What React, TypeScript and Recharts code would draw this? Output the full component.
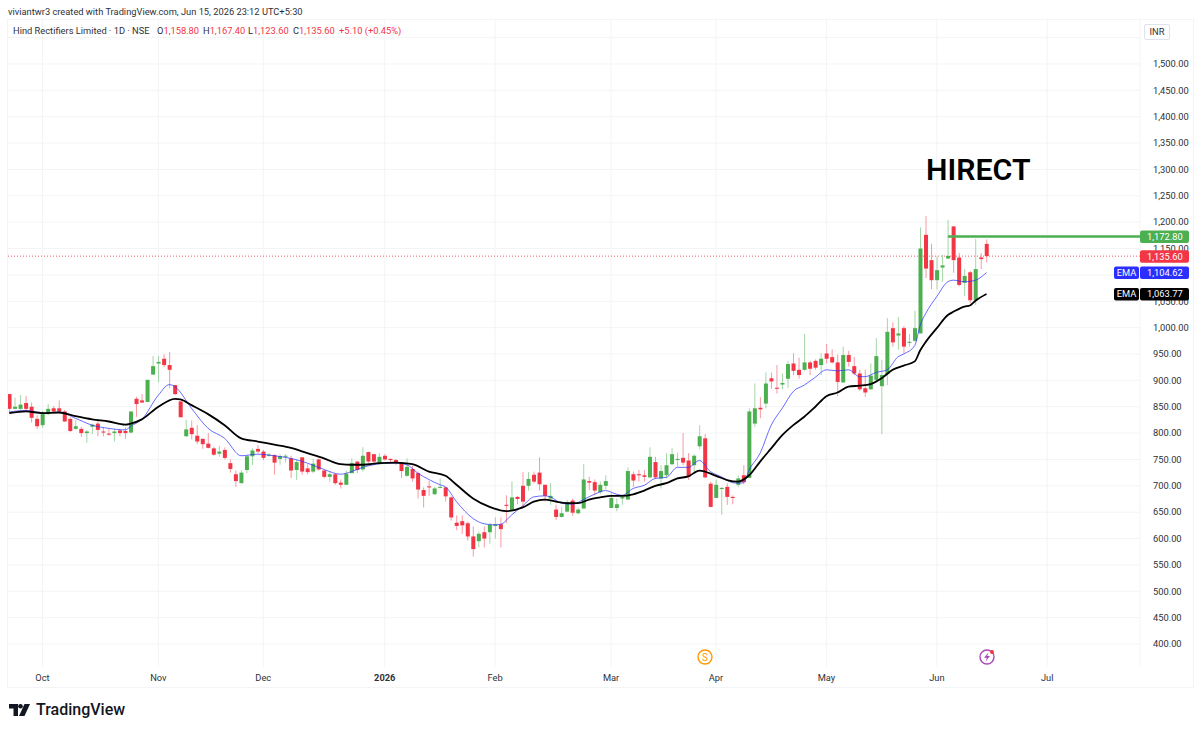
import { Bar, CartesianGrid, ComposedChart, Line, ReferenceLine, XAxis, YAxis } from 'recharts';

const opens = [
  874, 846, 846, 857, 850, 827, 815, 836, 847, 847,
  841, 827, 808, 808, 800, 812, 818, 803, 799, 800,
  805, 804, 801, 865, 862, 859, 911, 932, 941, 929,
  891, 860, 794, 810, 795, 789, 780, 771, 761, 768,
  743, 722, 705, 730, 756, 770, 765, 757, 758, 751,
  756, 752, 730, 754, 733, 727, 750, 729, 717, 722,
  706, 702, 724, 746, 731, 764, 760, 741, 757, 751,
  749, 743, 719, 732, 724, 692, 699, 684, 697, 697,
  678, 630, 633, 629, 604, 595, 612, 612, 624, 627,
  664, 653, 679, 700, 700, 721, 725, 702, 676, 655,
  641, 651, 672, 648, 657, 709, 707, 688, 700, 658,
  658, 676, 674, 722, 722, 720, 716, 745, 714, 720,
  741, 750, 753, 748, 739, 775, 790, 704, 677, 694,
  698, 679, 702, 720, 715, 818, 848, 856, 904, 886,
  892, 903, 932, 920, 920, 934, 937, 929, 951, 944,
  934, 896, 948, 927, 913, 885, 883, 901, 889, 912,
  999, 985, 999, 972, 975, 989, 1176, 1128, 1090, 1114,
  1131, 1192, 1133, 1085, 1105, 1052, 1133, 1158.8,
];
const highs = [
  874, 867, 872, 870, 858, 834, 842, 855, 851, 862,
  844, 830, 825, 812, 806, 818, 825, 811, 809, 808,
  808, 811, 841, 869, 874, 901, 946, 946, 949, 954,
  891, 861, 825, 824, 815, 790, 800, 774, 776, 773,
  750, 729, 729, 758, 771, 777, 768, 762, 760, 760,
  760, 757, 750, 754, 741, 751, 752, 730, 727, 722,
  712, 729, 752, 746, 773, 765, 760, 762, 760, 752,
  751, 745, 752, 738, 727, 697, 709, 698, 714, 698,
  680, 644, 644, 632, 623, 613, 623, 630, 640, 640,
  682, 708, 681, 726, 726, 727, 754, 702, 705, 664,
  660, 673, 676, 659, 741, 717, 712, 708, 720, 686,
  676, 681, 735, 727, 730, 730, 773, 755, 739, 762,
  772, 763, 800, 762, 760, 815, 798, 708, 712, 698,
  705, 682, 719, 739, 847, 894, 868, 915, 915, 929,
  913, 937, 951, 943, 988, 937, 940, 951, 969, 959,
  949, 964, 956, 944, 920, 920, 932, 980, 939, 1018,
  1010, 1020, 1003, 988, 1032, 1190, 1212, 1159, 1135, 1138,
  1204, 1192, 1142, 1111, 1108, 1168, 1141, 1167.4,
];
const lows = [
  839, 845, 844, 841, 820, 808, 810, 834, 839, 839,
  822, 802, 806, 793, 782, 798, 794, 794, 795, 784,
  794, 789, 800, 831, 857, 859, 910, 896, 925, 885,
  872, 830, 793, 788, 779, 770, 771, 757, 755, 750,
  725, 698, 705, 724, 739, 762, 749, 755, 721, 740,
  744, 715, 711, 721, 722, 724, 729, 714, 708, 702,
  695, 702, 724, 724, 727, 743, 740, 740, 748, 743,
  740, 715, 717, 708, 676, 659, 681, 683, 695, 670,
  634, 616, 609, 596, 566, 583, 583, 590, 600, 583,
  629, 653, 665, 659, 691, 705, 691, 670, 664, 635,
  640, 650, 643, 646, 657, 692, 682, 684, 693, 658,
  652, 664, 673, 698, 708, 708, 714, 713, 695, 714,
  739, 736, 739, 711, 725, 769, 714, 659, 677, 645,
  664, 665, 698, 703, 715, 812, 828, 847, 884, 875,
  883, 886, 910, 903, 918, 910, 920, 910, 932, 932,
  870, 896, 926, 910, 880, 869, 882, 898, 798, 891,
  964, 958, 951, 964, 973, 989, 1094, 1073, 1073, 1087,
  1130, 1104, 1078, 1060, 1046, 1043, 1111, 1123.6,
];
const closes = [
  846, 850, 854, 846, 829, 813, 836, 846, 841, 841,
  822, 804, 813, 800, 803, 816, 806, 801, 797, 803,
  800, 800, 841, 855, 858, 901, 927, 935, 929, 920,
  874, 830, 807, 798, 784, 779, 772, 759, 765, 753,
  732, 709, 725, 756, 767, 765, 753, 759, 744, 756,
  757, 729, 745, 727, 726, 742, 731, 717, 722, 705,
  702, 723, 743, 730, 757, 746, 746, 755, 750, 749,
  743, 728, 736, 714, 693, 681, 697, 695, 698, 680,
  640, 624, 625, 604, 580, 609, 600, 626, 627, 618,
  662, 678, 675, 670, 713, 708, 703, 681, 681, 641,
  648, 669, 649, 655, 712, 706, 691, 702, 709, 677,
  665, 679, 728, 710, 720, 717, 755, 716, 728, 739,
  760, 751, 744, 717, 757, 794, 716, 660, 702, 696,
  679, 677, 714, 707, 841, 847, 845, 894, 898, 884,
  895, 931, 918, 910, 934, 922, 924, 941, 941, 934,
  897, 948, 935, 913, 883, 877, 909, 946, 910, 992,
  972, 989, 964, 973, 999, 1150, 1112, 1090, 1109, 1118,
  1136, 1128, 1081, 1098, 1052, 1111, 1130, 1135.6,
];

// EMA readings, taken every few sessions
const slowEmaDays = [
  0, 3, 6, 9, 12, 15, 18, 21, 22, 24, 27, 30, 31, 33, 36, 39, 42, 45, 48, 51, 54, 57, 60, 62, 64, 67, 70, 73, 76, 79, 81,
  84, 87, 90, 93, 95, 97, 99, 101, 103, 105, 107, 109, 111, 113, 115, 117, 119, 121, 123, 125, 128, 130, 132,
  134, 136, 138, 140, 142, 144, 146, 148, 150, 152, 154, 156, 158, 160, 162, 164, 165, 166, 168, 170, 171, 173,
  174, 175, 177,
];
const slowEmaValues = [
  838, 841, 838, 839, 832, 826, 822, 816, 818, 826, 850, 865, 864, 853, 836, 815, 790, 784, 778, 772, 762, 752, 741, 740,
  740, 743, 744, 741, 727, 719, 702,
  676, 660, 652, 659, 670, 674, 670, 667, 667, 674, 678, 681, 681, 684, 691, 700, 705, 714, 718, 729, 719, 711,
  708,
  720, 746, 771, 796, 815, 831, 850, 870, 877, 888, 890, 893, 904, 920, 928, 936, 957, 973, 999, 1024, 1030, 1040,
  1042, 1051, 1063.77,
];
const fastEmaDays = [
  0, 3, 6, 9, 12, 15, 18, 21, 22, 24, 27, 29, 30, 33, 36, 39, 42, 45, 48, 51, 54, 57, 60, 62, 64, 66, 68, 70, 72, 74, 76,
  78, 79, 81, 84, 86, 88, 89, 91, 93, 95, 97, 98, 100, 102, 104, 106, 108, 110, 111, 113, 115, 117, 119, 121, 123, 125,
  127, 129, 131, 132, 133, 134, 136, 138, 140, 142, 144, 146, 148, 150, 152, 154, 155, 157, 159, 161, 162, 164, 165,
  166, 168, 170, 171, 173, 175, 177,
];
const fastEmaValues = [
  840, 843, 838, 840, 828, 815, 809, 806, 813, 826, 872, 892, 888, 847, 809, 790, 757, 760, 757, 752, 743, 731, 722, 727,
  735, 740, 743, 743, 740, 724, 712,
  702, 698, 670, 638, 628, 626, 627, 645, 662, 679, 681, 679, 667, 665, 674, 684, 691, 684, 682, 695, 701, 714, 716, 735,
  735, 748,
  727, 717, 706, 705, 706, 730, 762, 815, 847, 879, 891, 906, 920, 918, 920, 907, 907, 915, 920, 945, 950, 966, 1005,
  1027, 1059, 1087, 1090, 1087, 1090, 1104.62,
];

const timeTickDays = [6, 27, 46, 68, 88, 109, 128, 148, 168, 188];
const timeTickLabels = ['Oct', 'Nov', 'Dec', '2026', 'Feb', 'Mar', 'Apr', 'May', 'Jun', 'Jul'];
const priceTicks = [
  400, 450, 500, 550, 600, 650, 700, 750, 800, 850, 900, 950, 1000, 1050, 1150, 1200, 1250, 1300, 1350, 1400, 1450, 1500,
];
const gridPrices = [...priceTicks, 1100, 1550];

const UP = '#4CAF50';
const DOWN = '#F23645';
const EMA_FAST = '#2A2EFF';
const GRID = '#F3F4F6';
const TEXT = '#2E3138';
const FONT = 'Roboto, "Noto Sans", sans-serif';
const TEXT_SIZE = 9.3;
const X_DOMAIN = [-0.2355, 204.8];
const Y_DOMAIN = [356.4, 1583.4];

const slowByDay = new Map(slowEmaDays.map((d, k) => [d, slowEmaValues[k]]));
const fastByDay = new Map(fastEmaDays.map((d, k) => [d, fastEmaValues[k]]));

const rows = opens.map((open, i) => ({
  day: i,
  open,
  high: highs[i],
  low: lows[i],
  close: closes[i],
  range: [lows[i], highs[i]],
  slow: slowByDay.get(i) ?? null,
  fast: fastByDay.get(i) ?? null,
}));

function Candle(props: any) {
  const { x, y, width, height, payload } = props;
  const top = Math.min(y, y + height);
  const perUnit = Math.abs(height) / (payload.high - payload.low);
  const color = payload.close >= payload.open ? UP : DOWN;
  const bodyTop = top + (payload.high - Math.max(payload.open, payload.close)) * perUnit;
  const bodyH = Math.abs(payload.close - payload.open) * perUnit;
  const mid = x + width / 2;
  return (
    <g>
      <line x1={mid} x2={mid} y1={top} y2={top + Math.abs(height)} stroke={color} strokeWidth={1} strokeOpacity={0.5} />
      <rect x={x} y={bodyTop} width={width} height={Math.max(bodyH, 1)} fill={color} />
    </g>
  );
}

function TimeTick({ x, y, payload }: any) {
  const label = timeTickLabels[timeTickDays.indexOf(payload.value)];
  return (
    <text x={x} y={y + 6} textAnchor="middle" fontFamily={FONT} fontSize={TEXT_SIZE} fontWeight={label === '2026' ? 700 : 400} fill={TEXT}>
      {label}
    </text>
  );
}

function PriceTag({ viewBox, value, fill, name }: any) {
  const cy = viewBox.y;
  const right = viewBox.x + viewBox.width;
  return (
    <g fontFamily={FONT} fontSize={TEXT_SIZE} fill="#fff">
      {name && (
        <>
          <rect x={right - 26} y={cy - 6} width={25} height={12.5} rx={2} fill={fill} />
          <text x={right - 13.5} y={cy + 3.4} textAnchor="middle">{name}</text>
        </>
      )}
      <rect x={right} y={cy - 6} width={49} height={12.5} rx={2} fill={fill} />
      <text x={right + 7} y={cy + 3.4}>{value}</text>
    </g>
  );
}

const legendValues = [
  { left: 157, label: 'O', value: '1,158.80' },
  { left: 203, label: 'H', value: '1,167.40' },
  { left: 248, label: 'L', value: '1,123.60' },
  { left: 293, label: 'C', value: '1,135.60' },
];

const abs = (left: number, top: number, extra: any = {}) => ({
  position: 'absolute' as const,
  left,
  top,
  fontFamily: FONT,
  whiteSpace: 'nowrap' as const,
  lineHeight: 1,
  ...extra,
});

export default function App() {
  return (
    <div style={{ position: 'absolute', left: 0, top: 0, width: 1200, height: 732, background: '#fff', overflow: 'hidden' }}>
      <div style={{ position: 'absolute', left: 7, top: 19, width: 1185, height: 667, border: `1px solid ${GRID}` }} />
      <ComposedChart
        width={1200}
        height={732}
        data={rows}
        margin={{ top: 20, right: 0, bottom: 45, left: 8 }}
        style={{ position: 'absolute', left: 0, top: 0 }}
      >
        <CartesianGrid stroke={GRID} horizontalValues={gridPrices} verticalValues={timeTickDays} />
        <XAxis
          dataKey="day"
          type="number"
          domain={X_DOMAIN}
          allowDataOverflow
          ticks={timeTickDays}
          interval={0}
          axisLine={false}
          tickLine={false}
          tick={<TimeTick />}
          height={20}
        />
        <YAxis
          orientation="right"
          width={60}
          domain={Y_DOMAIN}
          allowDataOverflow
          ticks={priceTicks}
          interval={0}
          axisLine={{ stroke: GRID }}
          tickLine={false}
          tick={{ fill: TEXT, fontSize: TEXT_SIZE, fontFamily: FONT }}
          tickFormatter={(v: number) => v.toLocaleString('en-US', { minimumFractionDigits: 2 })}
          tickMargin={7}
        />
        <Bar dataKey="range" barSize={4} shape={<Candle />} isAnimationActive={false} />
        <Line dataKey="fast" type="monotone" connectNulls dot={false} stroke={EMA_FAST} strokeWidth={1} strokeOpacity={0.7} isAnimationActive={false} />
        <Line dataKey="slow" type="monotone" connectNulls dot={false} stroke="#000" strokeWidth={1.8} isAnimationActive={false} />
      </ComposedChart>

      {/* second layer so the price tags sit on top of the axis labels */}
      <ComposedChart
        width={1200}
        height={732}
        data={rows}
        margin={{ top: 20, right: 60, bottom: 65, left: 8 }}
        style={{ position: 'absolute', left: 0, top: 0 }}
      >
        <XAxis dataKey="day" type="number" domain={X_DOMAIN} allowDataOverflow hide />
        <YAxis domain={Y_DOMAIN} allowDataOverflow hide />
        <ReferenceLine y={1135.6} stroke={DOWN} strokeDasharray="1 2" strokeOpacity={0.8} label={<PriceTag value="1,135.60" fill={DOWN} />} />
        <ReferenceLine segment={[{ x: 170, y: 1172.8 }, { x: 204.8, y: 1172.8 }]} stroke={UP} strokeWidth={2.5} />
        <ReferenceLine y={1172.8} strokeOpacity={0} label={<PriceTag value="1,172.80" fill={UP} />} />
        <ReferenceLine y={1104.62} strokeOpacity={0} label={<PriceTag value="1,104.62" fill={EMA_FAST} name="EMA" />} />
        <ReferenceLine y={1063.77} strokeOpacity={0} label={<PriceTag value="1,063.77" fill="#000" name="EMA" />} />
      </ComposedChart>

      <div style={abs(8, 7, { fontSize: TEXT_SIZE, color: TEXT })}>viviantwr3 created with TradingView.com, Jun 15, 2026 23:12 UTC+5:30</div>
      <div style={abs(13, 26, { fontSize: TEXT_SIZE, color: TEXT })}>Hind Rectifiers Limited · 1D · NSE</div>
      {legendValues.map((item) => (
        <div key={item.label} style={abs(item.left, 26, { fontSize: TEXT_SIZE, color: DOWN })}>
          <span style={{ color: TEXT }}>{item.label}</span>{item.value}
        </div>
      ))}
      <div style={abs(339, 26, { fontSize: TEXT_SIZE, color: DOWN })}>+5.10 (+0.45%)</div>

      <div style={abs(1144, 24, { width: 26, height: 16, boxSizing: 'border-box', border: '1px solid #E0E3EB', borderRadius: 2, fontSize: TEXT_SIZE, color: TEXT, textAlign: 'center', lineHeight: '14px' })}>INR</div>
      <div style={abs(926, 155, { fontSize: 30.3, fontWeight: 600, color: '#000' })}>HIRECT</div>

      <svg width={24} height={24} style={{ position: 'absolute', left: 693, top: 645 }}>
        <circle cx={12} cy={12} r={7} fill="#fff" stroke="#FF9800" strokeWidth={1.4} />
        <text x={12} y={15.5} textAnchor="middle" fontSize={10} fontFamily={FONT} fill="#FF9800">S</text>
      </svg>
      <svg width={24} height={24} style={{ position: 'absolute', left: 975, top: 645 }}>
        <circle cx={12} cy={12} r={7} fill="#fff" stroke="#AB47BC" strokeWidth={1.4} />
        <path d="M13.5 7.5 L9 12.8 H11.8 L10.6 16.5 L15 11 H12.2 Z" fill="#AB47BC" />
        <circle cx={17} cy={7} r={2} fill={DOWN} />
      </svg>

      <svg width={24} height={16} style={{ position: 'absolute', left: 9, top: 702 }}>
        <path d="M0 2 H9 V14 H4.5 V6.5 H0 Z" fill="#131722" />
        <circle cx={11.5} cy={4.3} r={2.3} fill="#131722" />
        <path d="M15.5 2 H21 L15.5 14 H10 Z" fill="#131722" />
      </svg>
      <div style={abs(36, 702, { fontSize: 16, fontWeight: 500, color: '#131722' })}>TradingView</div>
    </div>
  );
}
